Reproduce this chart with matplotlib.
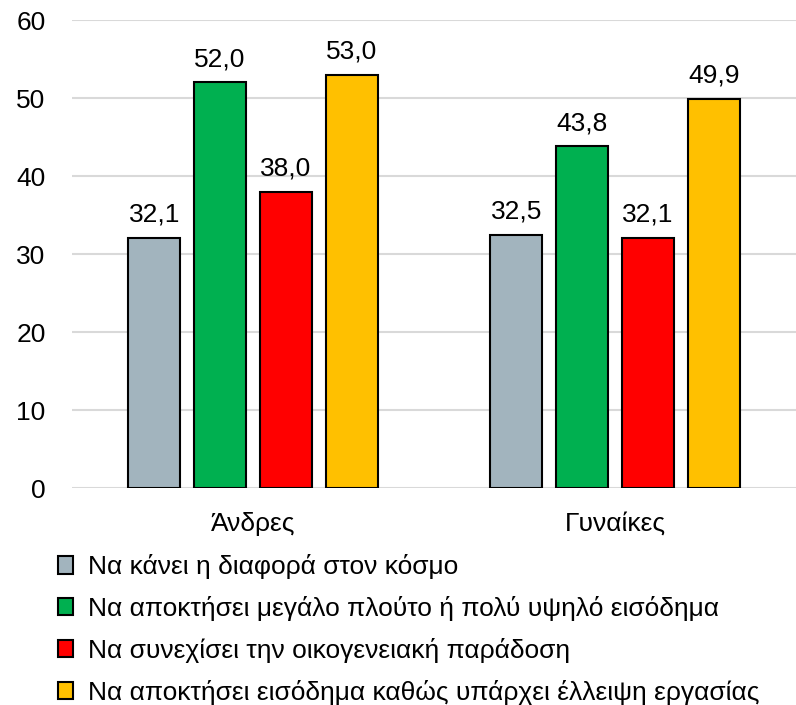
import numpy as np
import matplotlib.pyplot as plt

categories = ['Άνδρες', 'Γυναίκες']
series_names = [
    'Να κάνει η διαφορά στον κόσμο',
    'Να αποκτήσει μεγάλο πλούτο ή πολύ υψηλό εισόδημα',
    'Να συνεχίσει την οικογενειακή παράδοση',
    'Να αποκτήσει εισόδημα καθώς υπάρχει έλλειψη εργασίας',
]
values = [
    [32.1, 32.5],
    [52.0, 43.8],
    [38.0, 32.1],
    [53.0, 49.9],
]
colors = ['#A2B4BE', '#00B050', '#FF0000', '#FFC000']

plt.rcParams['font.family'] = ['Liberation Sans Narrow', 'Liberation Sans', 'DejaVu Sans']
fs = 19

fig = plt.figure(figsize=(7.96, 7.05), dpi=100)
ax = fig.add_axes([72 / 796, (705 - 488) / 705, 1 - 72 / 796, (488 - 20) / 705])

x = np.arange(len(categories))
width = 52 / 363
step = 66 / 363
bars = []
for i, (name, vals) in enumerate(zip(series_names, values)):
    off = (i - 1.5) * step
    b = ax.bar(x + off, vals, width, color=colors[i], edgecolor='black',
               linewidth=1.5, label=name, zorder=3)
    bars.append(b)
    for xi, v in zip(x + off, vals):
        ax.annotate(f'{v:.1f}'.replace('.', ','), (xi, v), xytext=(0, 8),
                    textcoords='offset points', ha='center', va='bottom', fontsize=fs)

ax.set_xlim(-0.5, 1.5)
ax.set_ylim(0, 60)
ax.set_yticks(range(0, 61, 10))
ax.set_xticks(x)
ax.set_xticklabels(categories)
ax.tick_params(axis='both', length=0, labelsize=fs)
ax.tick_params(axis='y', pad=19)
ax.tick_params(axis='x', pad=17)
ax.yaxis.grid(True, color='#D9D9D9', linewidth=1.5, zorder=0)
ax.set_axisbelow(True)
for s in ax.spines.values():
    s.set_visible(False)

fig.legend(handles=bars, labels=series_names, loc='upper left',
           bbox_to_anchor=(58 / 796, 1 - 554 / 705), frameon=False,
           fontsize=fs, handlelength=0.55, handleheight=0.65, handletextpad=0.6,
           labelspacing=0.64, borderaxespad=0, borderpad=0)

fig.savefig('out.png', dpi=100)
